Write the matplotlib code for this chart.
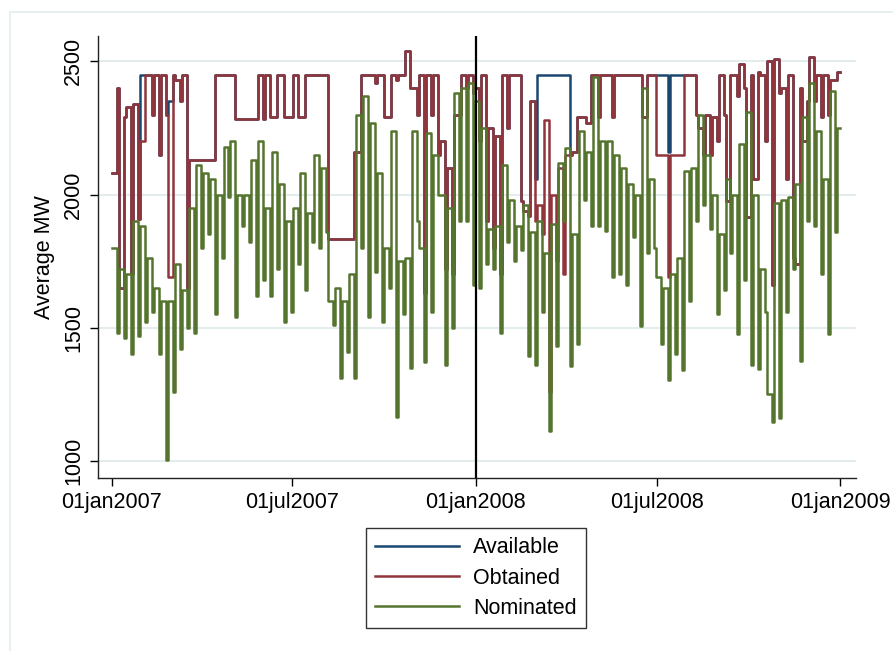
import numpy as np
import matplotlib
matplotlib.use('Agg')
import matplotlib.pyplot as plt
from matplotlib.patches import Rectangle
from matplotlib.lines import Line2D

plt.rcParams['font.family'] = ['Liberation Sans', 'DejaVu Sans']

# weekly levels, week 0 = Mon 01jan2007
# *_wd = Mon-Fri level, *_we = Sat-Sun level (Average MW)
nom_wd = [1800, 1720, 1700, 1900, 1880, 1760, 1650, 1600, 1600, 1740, 1640, 1950, 2110, 2080, 2060, 2000,
          2180, 2200, 2000, 2000, 2130, 2200, 1950, 2160, 2040, 1900, 1950, 2080, 1930, 2150, 2100, 1600,
          1650, 1600, 1700, 2300, 2370, 2270, 2080, 1800, 2240, 1750, 1760, 2240, 1800, 2230, 2150, 2000,
          1950, 2380, 2400, 2420, 2350, 2250, 1870, 1880, 2110, 1980, 1880, 1960, 1860, 1900, 1780, 1890,
          2120, 2175, 1850, 2240, 2160, 2440, 2200, 2200, 2150, 2100, 2040, 2000, 2400, 2060, 1690, 1650,
          1700, 1760, 2090, 2100, 2300, 2150, 2000, 1850, 2060, 2000, 2190, 2310, 2000, 1720, 1250, 1970,
          1980, 1990, 2040, 2290, 2420, 2240, 2060, 2390, 2250]
nom_we = [1480, 1460, 1400, 1470, 1520, 1560, 1400, 1005, 1260, 1420, 1500, 1480, 1800, 1850, 1550, 1760,
          1990, 1540, 1880, 1820, 1620, 1680, 1620, 1720, 1520, 1560, 1740, 1640, 1820, 1800, 1860, 1510,
          1310, 1410, 1310, 1800, 1540, 1710, 1520, 1650, 1165, 1550, 1350, 1900, 1370, 1560, 2000, 1360,
          1500, 1900, 1900, 1660, 1650, 1740, 1720, 1480, 1820, 1750, 1790, 1395, 1360, 1560, 1112, 1430,
          1900, 1355, 1440, 1980, 1880, 1880, 1863, 1690, 1700, 1660, 1840, 1505, 1780, 1800, 1440, 1305,
          1400, 1340, 1600, 1900, 1960, 1870, 1550, 1640, 1780, 1475, 1680, 1362, 1345, 1560, 1145, 1160,
          1560, 1720, 1375, 1900, 1880, 1700, 1475, 1860, 1750]

obt_wd = [2080, 1650, 2330, 2340, 2200, 2450, 2450, 2450, 1690, 2430, 2450, 2130, 2130, 2130, 2130, 2450,
          2450, 2450, 2283, 2283, 2283, 2450, 2450, 2290, 2450, 2290, 2450, 2290, 2450, 2450, 2450, 1832,
          1832, 1832, 1832, 2160, 2450, 2450, 2450, 2290, 2450, 2450, 2540, 2400, 2450, 2450, 2450, 2200,
          2100, 2300, 2450, 2450, 2400, 2450, 2250, 2220, 2450, 2450, 2450, 1940, 2350, 1960, 2280, 2000,
          2100, 2150, 2160, 2290, 2270, 2450, 2450, 2450, 2450, 2450, 2450, 2450, 2290, 2450, 2150, 2150,
          2150, 2150, 2450, 2450, 2250, 2300, 2290, 2450, 1975, 2450, 2490, 1915, 2060, 2450, 2500, 2510,
          2400, 2450, 1740, 2200, 2515, 2450, 2450, 2430, 2460]
obt_we = [2400, 2290, 1700, 1910, 2450, 2300, 2150, 2300, 2450, 2350, 1650, 2130, 2130, 2130, 2450, 2450,
          2450, 2283, 2283, 2283, 2283, 2283, 2290, 2450, 2290, 2290, 2290, 2450, 2450, 2450, 2450, 1832,
          1832, 1832, 2160, 2450, 2450, 2420, 2450, 2290, 2430, 2450, 2400, 2300, 1630, 2300, 2150, 1720,
          1700, 2300, 2400, 2380, 2200, 1900, 1800, 1700, 2250, 2450, 1975, 1920, 1900, 1850, 1260, 1750,
          1700, 2150, 2290, 2290, 2450, 2290, 2450, 2290, 2450, 2450, 2450, 2450, 2450, 2450, 2150, 1690,
          2150, 2150, 2450, 2300, 2150, 2150, 2200, 2300, 2450, 2370, 2400, 2450, 2460, 2200, 1660, 2380,
          2060, 1760, 2400, 2350, 2350, 2290, 2300, 2430, 2460]

avl_wd = [2080, 1650, 2330, 2340, 2450, 2450, 2450, 2450, 2350, 2430, 2450, 2130, 2130, 2130, 2130, 2450,
          2450, 2450, 2283, 2283, 2283, 2450, 2450, 2290, 2450, 2290, 2450, 2290, 2450, 2450, 2450, 1832,
          1832, 1832, 1832, 2160, 2450, 2450, 2450, 2290, 2450, 2450, 2540, 2400, 2450, 2450, 2450, 2200,
          2100, 2300, 2450, 2450, 2400, 2450, 2250, 2220, 2450, 2450, 2450, 1940, 2350, 2450, 2450, 2450,
          2450, 2450, 2160, 2290, 2270, 2450, 2450, 2450, 2450, 2450, 2450, 2450, 2290, 2450, 2450, 2450,
          2450, 2450, 2450, 2450, 2250, 2300, 2290, 2450, 1975, 2450, 2490, 1915, 2060, 2450, 2500, 2510,
          2400, 2450, 1740, 2200, 2515, 2450, 2450, 2430, 2460]
avl_we = [2400, 2290, 1700, 1910, 2450, 2300, 2150, 2300, 2450, 2350, 1650, 2130, 2130, 2130, 2450, 2450,
          2450, 2283, 2283, 2283, 2283, 2283, 2290, 2450, 2290, 2290, 2290, 2450, 2450, 2450, 2450, 1832,
          1832, 1832, 2160, 2450, 2450, 2420, 2450, 2290, 2430, 2450, 2400, 2300, 1630, 2300, 2150, 1720,
          1700, 2300, 2400, 2380, 2200, 1900, 1800, 1700, 2250, 2450, 1975, 1920, 2060, 2450, 2450, 2450,
          2450, 2150, 2290, 2290, 2450, 2290, 2450, 2290, 2450, 2450, 2450, 2450, 2450, 2450, 2450, 2160,
          2450, 2450, 2450, 2300, 2150, 2150, 2200, 2300, 2450, 2370, 2400, 2450, 2460, 2200, 1660, 2380,
          2060, 1760, 2400, 2350, 2350, 2290, 2300, 2430, 2460]

tick_days = [0, 181, 365, 547, 731]
tick_labels = ['01jan2007', '01jul2007', '01jan2008', '01jul2008', '01jan2009']
last_day = 731


def weekly_steps(wd, we):
    # step trace: weekday level from Monday, weekend level from Saturday
    x, y = [], []
    for w in range(len(wd)):
        x += [7 * w, 7 * w + 5]
        y += [wd[w], we[w]]
    x, y = np.array(x), np.array(y)
    keep = x < last_day
    x, y = x[keep], y[keep]
    return np.append(x, last_day), np.append(y, y[-1])


blue = '#1a476f'
red = '#90353b'
green = '#55752f'

fig = plt.figure(figsize=(8.93, 6.51), dpi=100)
ax = fig.add_axes([98 / 893, 1 - 478 / 651, 758 / 893, 442 / 651])

for wd, we, c in [(avl_wd, avl_we, blue), (obt_wd, obt_we, red), (nom_wd, nom_we, green)]:
    x, y = weekly_steps(wd, we)
    ax.plot(x, y, drawstyle='steps-post', color=c, lw=1.8)

ax.axvline(365, color='black', lw=1.6, zorder=5)

ax.set_xlim(-14, 747)
ax.set_ylim(936, 2595)
ax.set_xticks(tick_days)
ax.set_xticklabels(tick_labels, fontsize=15.5)
ax.set_yticks([1000, 1500, 2000, 2500])
ax.set_yticklabels(['1000', '1500', '2000', '2500'], fontsize=15.5, rotation=90, va='center')
ax.set_ylabel('Average MW', fontsize=15.5, labelpad=6)
ax.grid(axis='y', color='#e4eced', lw=1.5)
ax.set_axisbelow(True)
for s in ['top', 'right']:
    ax.spines[s].set_visible(False)
for s in ['left', 'bottom']:
    ax.spines[s].set_color('#222222')
    ax.spines[s].set_linewidth(1.0)
ax.tick_params(length=6, width=1, pad=4)

handles = [Line2D([], [], color=c, lw=1.8) for c in [blue, red, green]]
leg = fig.legend(handles, ['Available', 'Obtained', 'Nominated'], loc='center',
                 bbox_to_anchor=(476 / 893, 1 - 578 / 651), fontsize=15.5, frameon=True,
                 fancybox=False, edgecolor='black', handlelength=3.9, handletextpad=0.65,
                 labelspacing=0.42, borderpad=0.45)
leg.get_frame().set_linewidth(1.0)

fig.add_artist(Rectangle((10 / 893, -0.1), 1.0, (651 - 12) / 651 + 0.1, transform=fig.transFigure,
                         fill=False, edgecolor='#e4eced', lw=1.2))

fig.savefig('out.png', dpi=100)
